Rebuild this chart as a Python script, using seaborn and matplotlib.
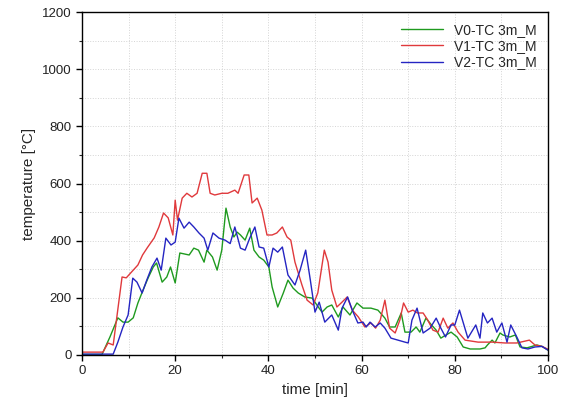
import numpy as np
import pandas as pd
import matplotlib
matplotlib.use("Agg")
import matplotlib.pyplot as plt
from matplotlib.ticker import MultipleLocator
import seaborn as sns

# readings (minutes, degC)
t_v0 = [0, 4.3, 6, 7.7, 8.8, 9.9, 11, 12, 13.1, 14.2, 15.3, 16, 17.2, 18.2, 19, 20, 21,
        23, 24, 25, 26.2, 26.8, 28, 29, 30, 30.9, 31.8, 32.6, 33.3, 34, 35, 36, 36.9,
        38, 39, 40.1, 40.8, 42, 43.2, 44.2, 45.3, 46.4, 47.8, 49.4, 50.4, 51.5, 52.6,
        53.6, 55, 56, 57.5, 59, 60.3, 62, 63.5, 65, 66, 67.2, 68.5, 69.3, 70.6, 71.7,
        72.5, 73.8, 75, 76, 77, 78.1, 79.2, 80.5, 81.8, 83.3, 85.4, 86.5, 87, 88, 88.6,
        89.7, 90.3, 91.8, 93, 94, 95.5, 97.6, 98.7, 100]
v0 = [2, 2, 63, 130, 115, 115, 130, 182, 227, 270, 308, 322, 255, 273, 308, 252, 357,
      350, 374, 367, 325, 367, 343, 297, 367, 514, 448, 413, 430, 420, 402, 444, 367,
      343, 332, 308, 238, 168, 217, 262, 234, 217, 203, 199, 175, 150, 168,
      175, 133, 168, 140, 182, 164, 164, 157, 129, 98, 98, 147, 80, 80, 98,
      80, 129, 105, 87, 59, 70, 80, 63, 28, 21, 21, 25, 35, 52, 42,
      77, 70, 63, 70, 28, 25, 35, 30, 17]

t_v1 = [0, 4.5, 5.6, 6.7, 8.6, 9.5, 11, 12, 13, 14, 15.5, 16.5, 17.5, 18.5, 19.5, 20,
        20.5, 21.5, 22.5, 23.6, 24.7, 25.8, 26.8, 27.5, 28.5, 30, 31.3, 32.8, 33.5,
        34.8, 35.8, 36.5, 37.6, 38.6, 39.7, 40.8, 41.8, 43, 44, 44.8, 45.7, 47.2,
        48.3, 49.6, 50.6, 52, 52.8, 53.6, 54.7, 55.8, 56.9, 58, 59.3, 60.7, 62, 63,
        64, 65, 66, 67.2, 68.2, 69, 70, 71, 72, 73.2, 74.2, 75.3, 76.4, 77.5, 78.5,
        79.6, 80.7, 82.2, 85, 88, 90.8, 93.3, 96, 97.2, 98.7, 100]
v1 = [10, 10, 42, 35, 273, 270, 297, 315, 350, 375, 410, 448, 497, 480, 420, 542,
      472, 549, 566, 553, 566, 636, 636, 566, 560, 566, 566, 577, 566,
      630, 630, 532, 549, 507, 420, 420, 427, 448, 413, 402, 325, 245,
      192, 175, 217, 367, 325, 227, 168, 185, 203, 157, 133, 98, 112, 94,
      122, 192, 94, 77, 122, 182, 150, 157, 147, 147, 122, 87, 80, 129, 94,
      112, 80, 52, 45, 45, 42, 42, 52, 35, 30, 20]

t_v2 = [0, 6.7, 7.7, 8.8, 9.9, 10.9, 11.8, 12.9, 13.9, 15, 16.1, 17, 18, 19.1, 20,
        20.8, 21.9, 23, 24, 25.1, 26.2, 27, 28.1, 29.4, 30.7, 31.8, 32.8, 34, 35, 36,
        37.1, 38, 39, 40.1, 41, 42, 43, 44.2, 45.7, 46.8, 48, 49, 50, 50.9, 52.1,
        53.6, 55, 55.8, 57, 58, 59.2, 60.3, 61, 61.8, 62.9, 64, 65, 66.3, 67.8, 69.3,
        70, 70.8, 71.9, 73.2, 74.7, 76, 77, 78, 79.2, 80, 81, 82.8, 84.5, 85.4, 86,
        87, 88, 89, 90.1, 91.2, 92, 93.3, 94.4, 95.7, 97.2, 98.7, 100]
v2 = [3, 3, 45, 98, 140, 269, 255, 217, 262, 308, 339, 297, 409, 385, 395,
      479, 444, 465, 448, 427, 409, 367, 427, 409, 402, 390, 448, 374, 367, 409,
      448, 378, 374, 308, 374, 360, 378, 280, 245, 297, 367, 262, 150, 185, 115,
      140, 87, 164, 203, 157, 112, 115, 98, 115, 98, 112, 94, 59, 52, 45,
      42, 122, 164, 77, 94, 129, 94, 63, 105, 105, 157, 59, 105, 59, 147,
      112, 129, 80, 112, 45, 105, 63, 25, 21, 28, 30, 17]

labels = ["V0-TC 3m_M", "V1-TC 3m_M", "V2-TC 3m_M"]
colors = ["#1f9a1f", "#e0393c", "#2525c2"]

df = pd.concat([
    pd.DataFrame({"time": t_v0, "temp": v0, "series": labels[0]}),
    pd.DataFrame({"time": t_v1, "temp": v1, "series": labels[1]}),
    pd.DataFrame({"time": t_v2, "temp": v2, "series": labels[2]}),
])

sns.set_style("ticks")
plt.rcParams["font.family"] = ["Liberation Sans", "DejaVu Sans"]

fig = plt.figure(figsize=(5.63, 4.05), dpi=100)
ax = fig.add_axes([0.1456, 0.1235, 0.8278, 0.8465])

sns.lineplot(data=df, x="time", y="temp", hue="series", palette=colors,
             estimator=None, sort=False, linewidth=1.0, ax=ax)

ax.set_xlim(0, 100)
ax.set_ylim(0, 1200)
ax.xaxis.set_major_locator(MultipleLocator(20))
ax.xaxis.set_minor_locator(MultipleLocator(10))
ax.yaxis.set_major_locator(MultipleLocator(200))
ax.yaxis.set_minor_locator(MultipleLocator(100))

# faint dotted grid, as in the original
ax.grid(True, which="both", color="#d4d4d4", linestyle=":", linewidth=0.7)
ax.set_axisbelow(True)

for s in ax.spines.values():
    s.set_visible(True)
    s.set_color("black")
    s.set_linewidth(1.0)
ax.tick_params(which="major", direction="out", length=4, width=1.0,
               labelsize=9.5, colors="black", labelcolor="#222222")
ax.tick_params(which="minor", direction="out", length=2.5, width=0.8)

ax.set_xlabel("time [min]", fontsize=11)
ax.set_ylabel("temperature [°C]", fontsize=11)

ax.legend(loc="upper right", frameon=False, fontsize=10, handlelength=3.0,
          labelspacing=0.15, borderaxespad=0.4)

fig.savefig("out.png", dpi=100)
